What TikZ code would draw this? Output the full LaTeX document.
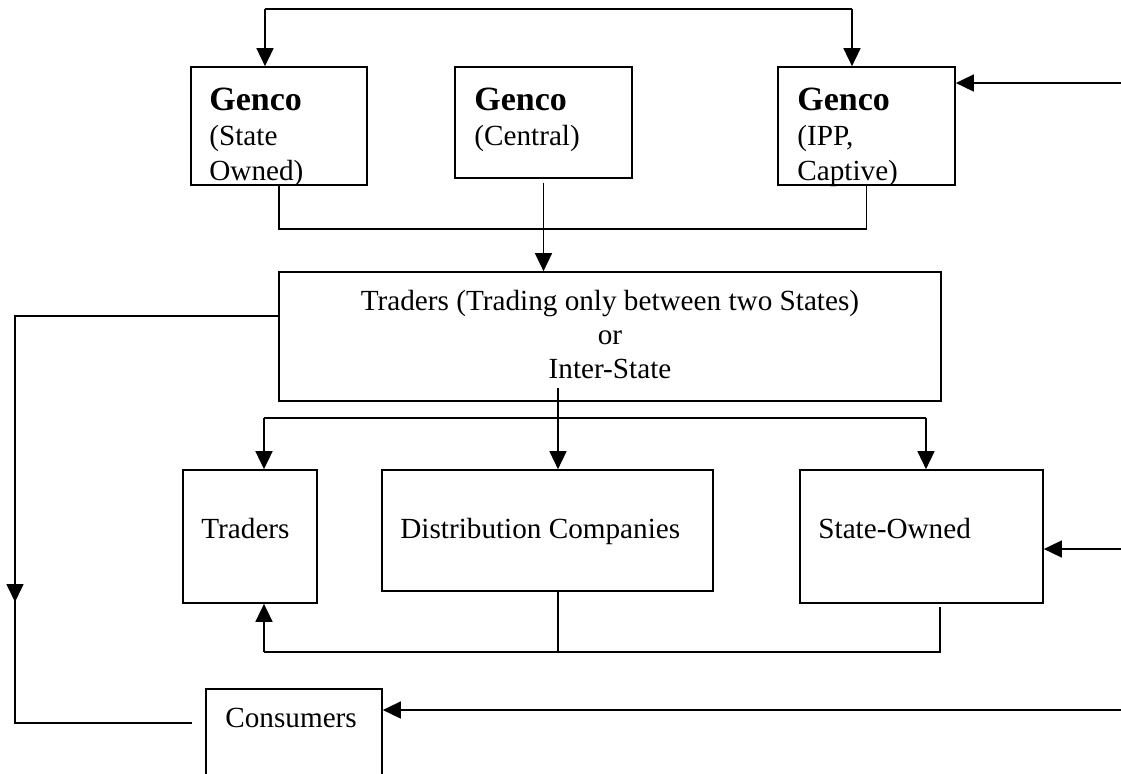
\documentclass[tikz,border=0pt]{standalone}
\usepackage{fontspec}
\setmainfont{Liberation Serif}
\usetikzlibrary{arrows.meta,fit}
\begin{document}
\begin{tikzpicture}[x=0.5pt,y=-0.5pt,
  box/.style={draw,line width=0.85pt,rectangle,inner sep=0pt},
  conn/.style={line width=0.8pt},
  arr/.style={conn,-{Triangle[length=9pt,width=8.5pt]}},
  lbl/.style={anchor=base west,inner sep=0pt,font=\fontsize{14.6pt}{17pt}\selectfont},
  bold/.style={anchor=base west,inner sep=0pt,font=\fontsize{17pt}{20pt}\selectfont\bfseries},
  ctr/.style={anchor=base,inner sep=0pt,font=\fontsize{14.6pt}{17pt}\selectfont}]
\useasboundingbox (0,0) rectangle (1121,773);
\clip (0,0) rectangle (1121,773);
% boxes
\node[box,fit={(191,67)(367,185)}] (g1) {};
\node[box,fit={(455,67)(632,178)}] (g2) {};
\node[box,fit={(778,67)(955,185)}] (g3) {};
\node[box,fit={(279,272)(941,401)}] (tr) {};
\node[box,fit={(183,470)(317,603)}] (ts) {};
\node[box,fit={(382,470)(713,591)}] (dc) {};
\node[box,fit={(800,470)(1043,603)}] (so) {};
\node[box,fit={(206,689)(382,800)}] (cons) {};
% texts
\node[bold] (g1a) at (209,110) {Genco};
\node[lbl] (g1b) at (209,145) {(State};
\node[lbl] (g1c) at (209,180) {Owned)};
\node[bold] (g2a) at (474,110) {Genco};
\node[lbl] (g2b) at (474,145) {(Central)};
\node[bold] (g3a) at (797,110) {Genco};
\node[lbl] (g3b) at (797,145) {(IPP,};
\node[lbl] (g3c) at (797,180) {Captive)};
\node[ctr] (tra) at (610,310) {Traders (Trading only between two States)};
\node[ctr] (trb) at (610,344) {or};
\node[ctr] (trc) at (610,378) {Inter-State};
\node[lbl] (tsa) at (201,538) {Traders};
\node[lbl] (dca) at (400,538) {Distribution Companies};
\node[lbl] (soa) at (818,538) {State-Owned};
\node[lbl] (ca) at (225,727) {Consumers};
% top loop
\coordinate (t1) at (265,9);
\coordinate (t2) at (852,9);
\draw[conn] (t1) -- (t2);
\draw[arr] (t1) -- (t1 |- g1.north);
\draw[arr] (t2) -- (t2 |- g3.north);
\coordinate (r1) at (1121,83);
\draw[arr] (r1) -- (r1 -| g3.east);
% genco to traders
\draw[conn] (g1.south) -- ++(0,43) -| (g3.south);
\coordinate (c2) at (543.5,183);
\draw[arr] (c2) -- (c2 |- tr.north);
% traders to second row
\coordinate (d0) at (558,388);
\coordinate (d1) at (558,418);
\coordinate (dl) at (264,418);
\coordinate (dr) at (926,418);
\draw[conn] (d0) -- (d1);
\draw[conn] (dl) -- (dr);
\draw[arr] (dl) -- (dl |- ts.north);
\draw[arr] (d1) -- (d1 |- dc.north);
\draw[arr] (dr) -- (dr |- so.north);
\coordinate (s1) at (1121,549);
\draw[arr] (s1) -- (s1 -| so.east);
% bottom return
\coordinate (b1) at (940,607);
\coordinate (b2) at (264,652);
\draw[conn] (b1) |- (b2);
\draw[arr] (b2) -- (b2 |- ts.south);
\draw[conn] (dc.south -| d1) -- (d1 |- b2);
% left loop
\coordinate (l1) at (15,316);
\coordinate (l2) at (192,723);
\draw[conn] (l1 -| tr.west) -- (l1) |- (l2);
\coordinate (la) at (15,560);
\coordinate (lb) at (15,602);
\draw[arr] (la) -- (lb);
% consumers
\coordinate (k1) at (1121,710);
\draw[arr] (k1) -- (k1 -| cons.east);
\end{tikzpicture}
\end{document}
